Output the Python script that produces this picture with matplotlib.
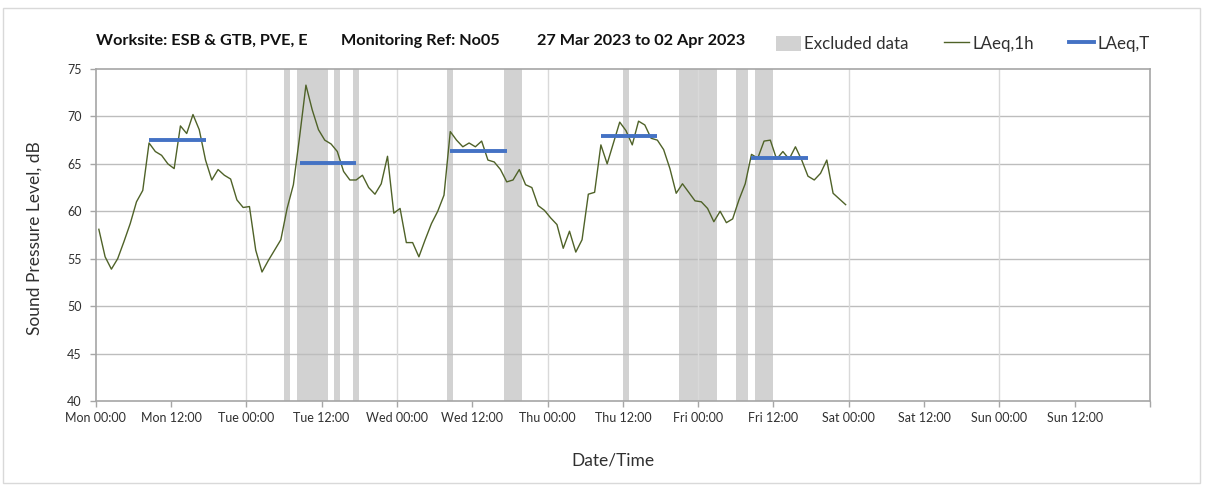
import matplotlib
matplotlib.use("Agg")
import matplotlib.pyplot as plt
from matplotlib.patches import Patch, Rectangle
from matplotlib.lines import Line2D
import numpy as np

# Hourly LAeq,1h values (dB), one per hour from Mon 00:00 to Fri 24:00
laeq_1h = [
    58.1, 55.2, 53.9, 55.0, 56.8, 58.7, 61.0, 62.2, 67.2, 66.3,
    65.9, 65.0, 64.5, 69.0, 68.2, 70.2, 68.6, 65.4, 63.3, 64.4,
    63.8, 63.4, 61.2, 60.4, 60.5, 55.9, 53.6, 54.8, 55.9, 57.0,
    60.3, 62.8, 67.9, 73.3, 70.7, 68.6, 67.5, 67.1, 66.3, 64.2,
    63.3, 63.3, 63.8, 62.5, 61.8, 62.9, 65.8, 59.8, 60.3, 56.7,
    56.7, 55.2, 57.0, 58.7, 60.0, 61.7, 68.4, 67.5, 66.8, 67.2,
    66.8, 67.4, 65.4, 65.2, 64.4, 63.1, 63.3, 64.4, 62.8, 62.5,
    60.6, 60.1, 59.3, 58.6, 56.1, 57.9, 55.7, 57.0, 61.8, 62.0,
    67.0, 65.0, 67.2, 69.4, 68.5, 67.0, 69.5, 69.1, 67.7, 67.5,
    66.5, 64.5, 61.9, 62.9, 62.0, 61.1, 61.0, 60.3, 58.9, 60.0,
    58.8, 59.2, 61.2, 62.9, 66.0, 65.6, 67.4, 67.5, 65.5, 66.3,
    65.5, 66.8, 65.4, 63.7, 63.3, 64.0, 65.4, 61.9, 61.3, 60.7,
]

# Daytime LAeq,T (08:00-18:00) for each monitored day
laeq_t_days = [0, 1, 2, 3, 4]
laeq_t = [67.5, 65.1, 66.4, 67.9, 65.6]

# Excluded periods, [start hour, end hour] from Mon 00:00
excluded_start = [30, 32, 38, 41, 56, 65, 84, 93, 102, 105]
excluded_end = [31, 37, 39, 42, 57, 68, 85, 99, 104, 108]

tick_labels = ["Mon 00:00", "Mon 12:00", "Tue 00:00", "Tue 12:00",
               "Wed 00:00", "Wed 12:00", "Thu 00:00", "Thu 12:00",
               "Fri 00:00", "Fri 12:00", "Sat 00:00", "Sat 12:00",
               "Sun 00:00", "Sun 12:00", ""]

FONT = ["Lato", "DejaVu Sans"]
plt.rcParams["font.family"] = FONT

W, H = 1208, 491
fig = plt.figure(figsize=(W / 100, H / 100), dpi=100)
ax = fig.add_axes([95.7 / W, 1 - 401 / H, (1150 - 95.7) / W, (401 - 69) / H])

green = "#4f6228"
blue = "#4472c4"
band = "#d2d2d2"

for s, e in zip(excluded_start, excluded_end):
    ax.axvspan(s, e, color=band, lw=0, zorder=0.2)

hours = np.arange(len(laeq_1h)) + 0.5
ax.plot(hours, laeq_1h, color=green, lw=1.0, zorder=3)

for d, v in zip(laeq_t_days, laeq_t):
    ax.plot([24 * d + 8.5, 24 * d + 17.5], [v, v], color=blue, lw=2.8,
            solid_capstyle="butt", zorder=4)

ax.set_xlim(0, 168)
ax.set_ylim(40, 75)
ax.set_yticks(np.arange(40, 76, 5))
ax.set_xticks(np.arange(0, 169, 12))
ax.set_xticklabels(tick_labels)

# Gridlines: grey horizontal, lighter daily verticals
for y in range(45, 75, 5):
    ax.axhline(y, color="#bdbdbd", lw=1.0, zorder=1)
for x in range(24, 168, 24):
    ax.axvline(x, color="#d9d9d9", lw=1.0, zorder=1)

for sp in ax.spines.values():
    sp.set_color("#a6a6a6")
    sp.set_linewidth(1.2)

ax.tick_params(axis="both", direction="out", length=4, width=1,
               color="#a6a6a6", labelsize=9, labelcolor="#303030")
ax.tick_params(axis="x", pad=4)
ax.tick_params(axis="y", pad=6)

fig.text(35 / W, 1 - 238 / H, "Sound Pressure Level, dB", rotation=90,
         ha="center", va="center", fontsize=12.5, color="#303030")
fig.text(613 / W, 1 - 460 / H, "Date/Time", ha="center", va="center",
         fontsize=12.5, color="#303030")

ty = 1 - 41 / H
title_kw = dict(ha="left", va="center", fontsize=11.7, fontweight="bold",
                color="#111111")
fig.text(96 / W, ty, "Worksite: ESB & GTB, PVE, E", **title_kw)
fig.text(341 / W, ty, "Monitoring Ref: No05", **title_kw)
fig.text(537 / W, ty, "27 Mar 2023 to 02 Apr 2023", **title_kw)

handles = [Patch(facecolor=band, edgecolor="none"),
           Line2D([], [], color=green, lw=1.0),
           Line2D([], [], color=blue, lw=2.8)]
fig.legend(handles, ["Excluded data", "LAeq,1h", "LAeq,T"],
           loc="center left", bbox_to_anchor=(761 / W, 1 - 44 / H),
           ncol=3, frameon=False, fontsize=12.2, handlelength=1.45,
           handleheight=1.0, handletextpad=0.2, columnspacing=2.1,
           labelcolor="#303030")

# Outer chart frame
fig.patches.append(Rectangle((3 / W, 1 - 483 / H), (1200 - 3) / W, (483 - 8) / H,
                             transform=fig.transFigure, fill=False,
                             edgecolor="#d9d9d9", lw=1.0))

fig.savefig("out.png", dpi=100)
